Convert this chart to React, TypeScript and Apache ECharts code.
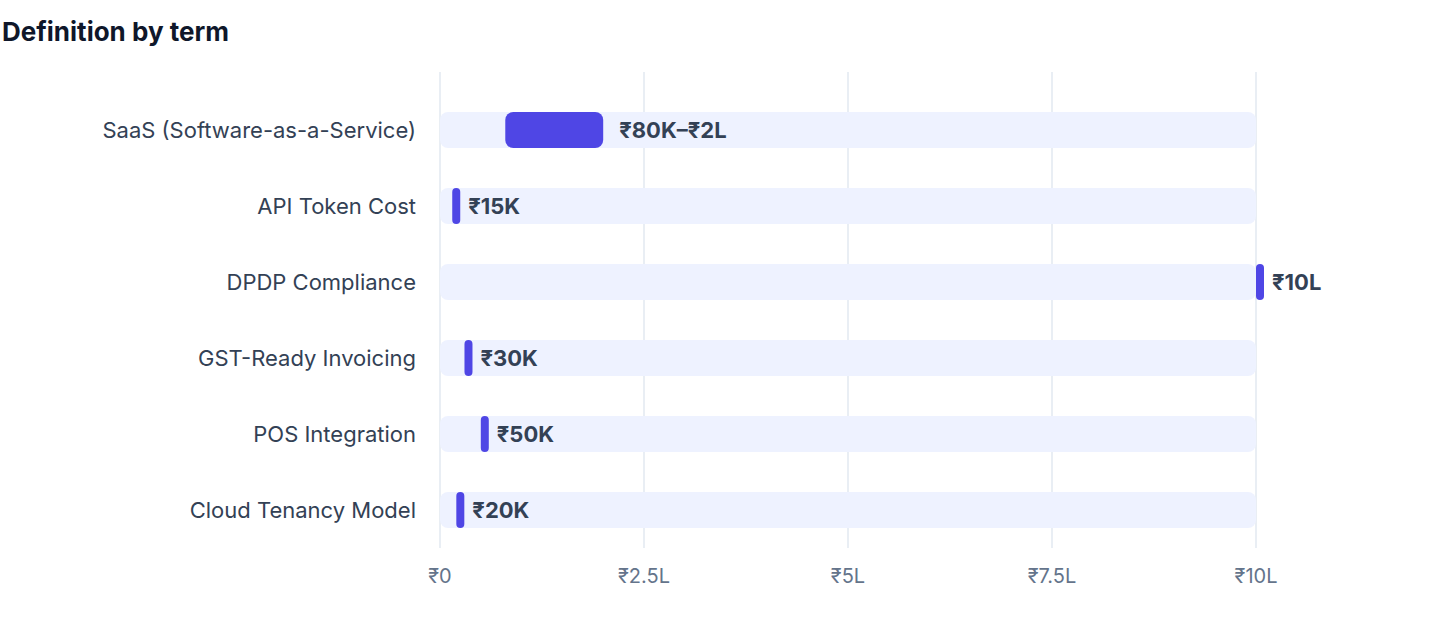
import { useEffect, useRef } from 'react'
import * as echarts from 'echarts'

const TERMS = [
  'SaaS (Software-as-a-Service)',
  'API Token Cost',
  'DPDP Compliance',
  'GST-Ready Invoicing',
  'POS Integration',
  'Cloud Tenancy Model'
]
const LOWS = [80000, 15000, 1000000, 30000, 50000, 20000]
const HIGHS = [200000, 15000, 1000000, 30000, 50000, 20000]
const VALUE_LABELS = ['₹80K–₹2L', '₹15K', '₹10L', '₹30K', '₹50K', '₹20K']
const TRACK_MAX = 1000000
const X_TICKS = ['₹0', '₹2.5L', '₹5L', '₹7.5L', '₹10L']

const FONT = 'Inter, "Liberation Sans", Arial, sans-serif'

export default function App() {
  const chartRef = useRef<HTMLDivElement>(null)

  useEffect(() => {
    document.body.style.margin = '0'
    if (!chartRef.current) return
    const chart = echarts.init(chartRef.current, null, { renderer: 'svg' })

    const rangeData = TERMS.map((_, i) => [i, LOWS[i], HIGHS[i], VALUE_LABELS[i]])

    const option: echarts.EChartsOption = {
      animation: false,
      backgroundColor: '#fff',
      textStyle: { fontFamily: FONT },
      title: {
        text: 'Definition by term',
        left: -3,
        top: 13,
        textStyle: { fontSize: 26, fontWeight: 700, color: '#0f172a', fontFamily: FONT }
      },
      grid: [
        // track grid for the vertical lines, a bit taller than the bars' grid
        { left: 440, right: 184, top: 72, bottom: 88 },
        { left: 440, right: 184, top: 92, bottom: 88 }
      ],
      xAxis: [
        {
          gridIndex: 0,
          type: 'value',
          min: 0,
          max: TRACK_MAX,
          interval: 250000,
          axisLine: { show: false },
          axisTick: { show: false },
          splitLine: { show: true, lineStyle: { color: '#e2e8f0', width: 1.5 } },
          axisLabel: {
            margin: 18,
            fontSize: 20,
            color: '#64748b',
            fontFamily: FONT,
            formatter: (_v: number, idx: number) => X_TICKS[idx]
          }
        },
        {
          gridIndex: 1,
          type: 'value',
          min: 0,
          max: TRACK_MAX,
          show: false
        }
      ],
      yAxis: [
        {
          gridIndex: 0,
          type: 'value',
          show: false
        },
        {
          gridIndex: 1,
          type: 'category',
          data: TERMS,
          inverse: true,
          axisLine: { show: false },
          axisTick: { show: false },
          axisLabel: {
            margin: 24,
            fontSize: 22,
            color: '#334155',
            fontFamily: FONT
          }
        }
      ],
      series: [
        {
          type: 'bar',
          xAxisIndex: 1,
          yAxisIndex: 1,
          z: 1,
          data: TERMS.map(() => TRACK_MAX),
          barWidth: 36,
          itemStyle: { color: '#eef2ff', borderRadius: 8 },
          silent: true
        },
        {
          type: 'custom',
          xAxisIndex: 1,
          yAxisIndex: 1,
          z: 5,
          clip: false,
          data: rangeData,
          encode: { x: [1, 2], y: 0 },
          renderItem: (params: any, api: any) => {
            const idx = api.value(0)
            const start = api.coord([api.value(1), idx])
            const end = api.coord([api.value(2), idx])
            // single values get a small pill
            const w = Math.max(end[0] - start[0], 8)
            const h = 36
            return {
              type: 'group',
              children: [
                {
                  type: 'rect',
                  shape: { x: start[0], y: start[1] - h / 2, width: w, height: h, r: Math.min(8, w / 2) },
                  style: { fill: '#4f46e5' }
                },
                {
                  type: 'text',
                  x: end[0] + 16,
                  y: start[1],
                  style: {
                    text: rangeData[params.dataIndex][3] as string,
                    fill: '#334155',
                    fontSize: 22,
                    fontWeight: 700,
                    fontFamily: FONT,
                    verticalAlign: 'middle',
                    align: 'left'
                  }
                }
              ]
            }
          }
        }
      ]
    }

    chart.setOption(option)
    return () => chart.dispose()
  }, [])

  return <div ref={chartRef} style={{ width: 1440, height: 636 }} />
}
